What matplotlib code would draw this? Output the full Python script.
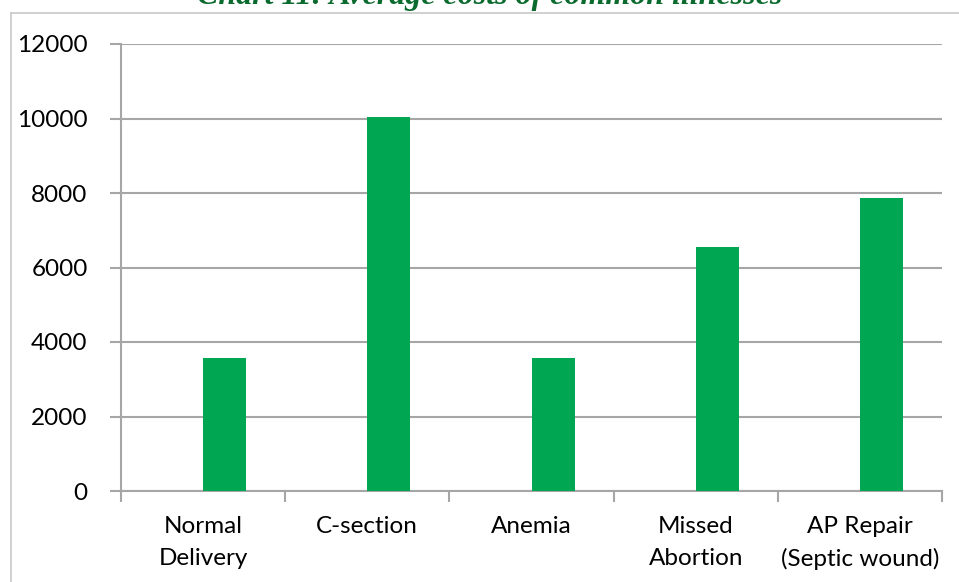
import matplotlib
matplotlib.use('Agg')
import matplotlib.pyplot as plt
from matplotlib.lines import Line2D
import numpy as np

# Data
categories = ['Normal\nDelivery', 'C-section', 'Anemia', 'Missed\nAbortion', 'AP Repair\n(Septic wound)']
costs = [3570, 10040, 3570, 6550, 7870]
y_ticks = [0, 2000, 4000, 6000, 8000, 10000, 12000]

BAR_COLOR = '#00A651'
GRID_COLOR = '#A6A6A6'

plt.rcParams['font.family'] = ['Lato', 'DejaVu Sans']

fig = plt.figure(figsize=(9.59, 5.82), dpi=100)
ax = fig.add_axes([121 / 959, 1 - 491 / 582, (942 - 121) / 959, (491 - 44) / 582])

x = np.arange(len(categories))
# excel-style clustered column: empty first series, so bar sits right of centre
ax.bar(x + 0.131, costs, width=0.262, color=BAR_COLOR, zorder=3)

ax.set_xlim(-0.5, len(categories) - 0.5)
ax.set_ylim(0, 12000)
ax.set_yticks(y_ticks)
ax.set_yticklabels([str(v) for v in y_ticks], fontsize=17.5)
ax.yaxis.grid(True, color=GRID_COLOR, linewidth=1.5, zorder=0)

ax.set_xticks(np.arange(len(categories) + 1) - 0.5)
ax.set_xticklabels([])
ax.set_xticks(x, minor=True)
ax.set_xticklabels(categories, minor=True, fontsize=17.5, linespacing=1.62)
ax.tick_params(axis='x', which='minor', length=0, pad=18)
ax.tick_params(axis='x', which='major', length=8, width=1.5, color=GRID_COLOR)
ax.tick_params(axis='y', length=8, width=1.5, color=GRID_COLOR, pad=16)

for side in ['top', 'right']:
    ax.spines[side].set_visible(False)
for side in ['left', 'bottom']:
    ax.spines[side].set_color(GRID_COLOR)
    ax.spines[side].set_linewidth(1.5)

# outer chart frame (partly cut off in the reference)
fig.add_artist(Line2D([11 / 959, 11 / 959], [0, 1 - 13 / 582], color='#C8C8C8', linewidth=1.2))
fig.add_artist(Line2D([11 / 959, 1], [1 - 13 / 582, 1 - 13 / 582], color='#C8C8C8', linewidth=1.2))

fig.text(490 / 959, 1 - 4 / 582, 'Chart 11: Average costs of common illnesses',
         ha='center', va='baseline', fontsize=23, color='#0B6B2E',
         family='Liberation Serif', fontweight='bold', fontstyle='italic')

plt.savefig('out.png', dpi=100)
